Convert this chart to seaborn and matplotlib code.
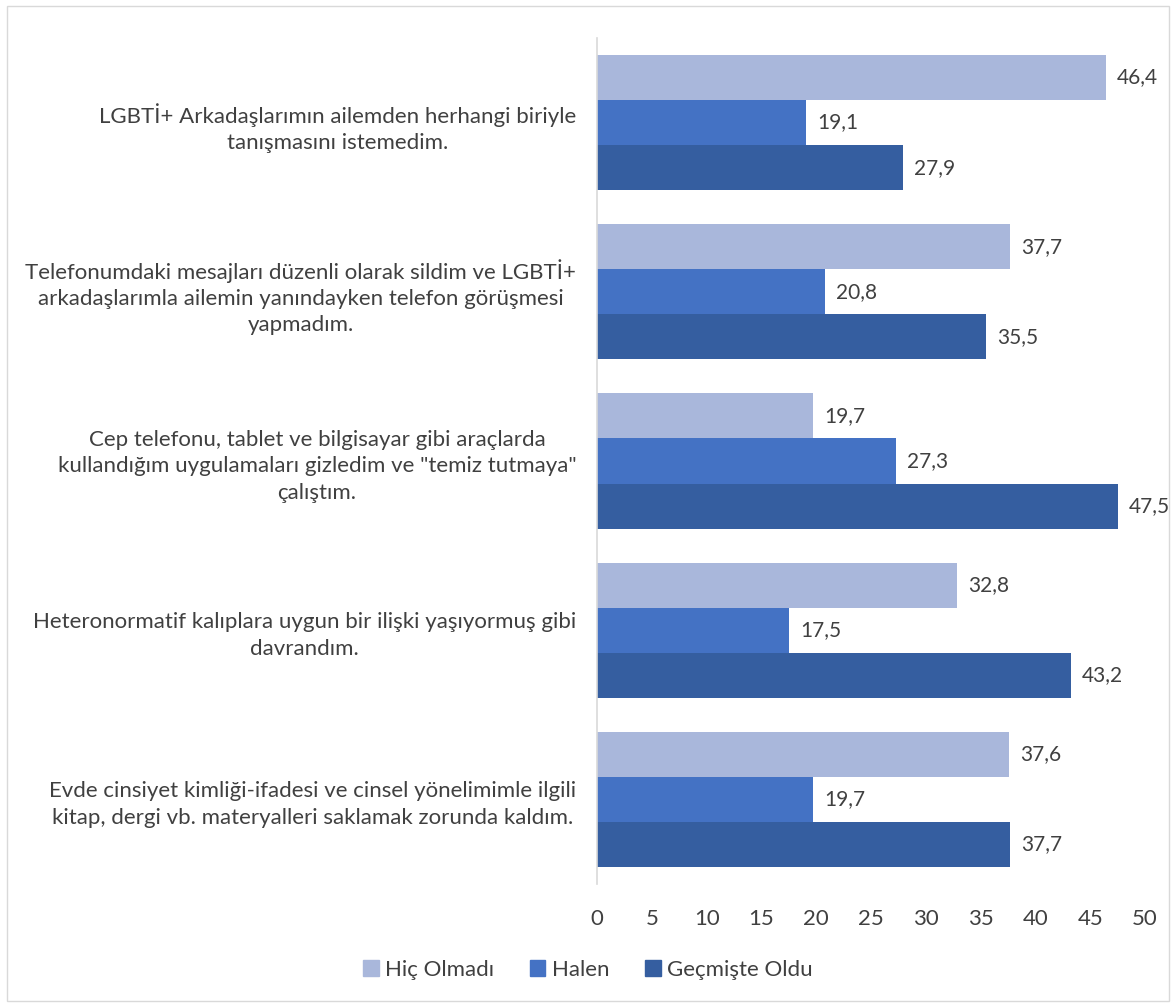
import seaborn as sns
import matplotlib.pyplot as plt
import pandas as pd
from matplotlib.patches import Rectangle

# chart data
statements = [
    "LGBTİ+ Arkadaşlarımın ailemden herhangi biriyle\ntanışmasını istemedim.",
    "Telefonumdaki mesajları düzenli olarak sildim ve LGBTİ+\narkadaşlarımla ailemin yanındayken telefon görüşmesi\nyapmadım.",
    "Cep telefonu, tablet ve bilgisayar gibi araçlarda\nkullandığım uygulamaları gizledim ve \"temiz tutmaya\"\nçalıştım.",
    "Heteronormatif kalıplara uygun bir ilişki yaşıyormuş gibi\ndavrandım.",
    "Evde cinsiyet kimliği-ifadesi ve cinsel yönelimimle ilgili\nkitap, dergi vb. materyalleri saklamak zorunda kaldım.",
]
series = ["Hiç Olmadı", "Halen", "Geçmişte Oldu"]
hic_olmadi = [46.4, 37.7, 19.7, 32.8, 37.6]
halen = [19.1, 20.8, 27.3, 17.5, 19.7]
gecmiste_oldu = [27.9, 35.5, 47.5, 43.2, 37.7]
colors = ["#A9B7DB", "#4472C4", "#355EA0"]

rows = []
for name, vals in zip(series, [hic_olmadi, halen, gecmiste_oldu]):
    for s, v in zip(statements, vals):
        rows.append({"ifade": s, "durum": name, "oran": v})
df = pd.DataFrame(rows)

sns.set_style("white")
plt.rcParams["font.family"] = ["Lato", "DejaVu Sans"]
text_color = "#404040"

fig = plt.figure(figsize=(11.76, 10.05), dpi=100)
ax = fig.add_axes([0.5077, 0.1204, 0.4660, 0.8418])

sns.barplot(
    data=df, y="ifade", x="oran", hue="durum", hue_order=series,
    order=statements, palette=colors, orient="h", width=0.8,
    saturation=1, ax=ax, errorbar=None, linewidth=0,
)

for cont in ax.containers:
    labels = [f"{b.get_width():.1f}".replace(".", ",") for b in cont]
    ax.bar_label(cont, labels=labels, padding=8, fontsize=15, color=text_color)

ax.set_xlim(0, 50)
ax.set_ylim(4.5, -0.5)
ax.set_xticks(range(0, 51, 5))
ax.set_xlabel("")
ax.set_ylabel("")
ax.tick_params(axis="x", labelsize=16, colors=text_color, length=0, pad=18)
ax.tick_params(axis="y", labelsize=16, colors=text_color, length=0, pad=15)
for lbl in ax.get_yticklabels():
    lbl.set_multialignment("center")
    lbl.set_linespacing(1.4)

for side in ["top", "right", "bottom"]:
    ax.spines[side].set_visible(False)
ax.spines["left"].set_color("#D9D9D9")
ax.spines["left"].set_linewidth(1.2)

ax.legend_.remove()
handles = [Rectangle((0, 0), 1, 1, color=c) for c in colors]
fig.legend(
    handles, series, loc="center", bbox_to_anchor=(0.5, 0.035), ncol=3,
    frameon=False, fontsize=16, handlelength=0.7, handleheight=0.7,
    handletextpad=0.3, columnspacing=1.6, labelcolor=text_color,
)

# outer chart border
fig.patches.append(Rectangle((0.006, 0.004), 0.988, 0.99, transform=fig.transFigure,
                             fill=False, edgecolor="#D9D9D9", linewidth=1))

plt.savefig("out.png", dpi=100)
plt.close()
